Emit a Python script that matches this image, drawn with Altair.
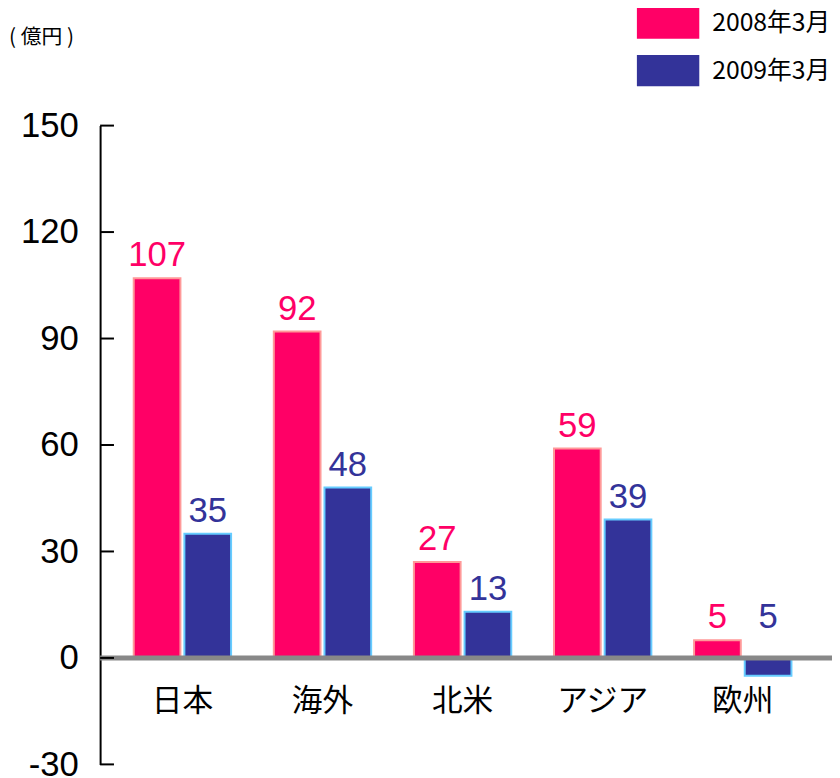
import altair as alt
import pandas as pd

regions = ["日本", "海外", "北米", "アジア", "欧州"]
series = ["2008年3月", "2009年3月"]
v2008 = [107, 92, 27, 59, 5]
v2009 = [35, 48, 13, 39, -5]
lab2008 = ["107", "92", "27", "59", "5"]
lab2009 = ["35", "48", "13", "39", "5"]
y_ticks = [-30, 0, 30, 60, 90, 120, 150]
unit_label = ["( 億円 )"]

fill_colors = ["#FF0066", "#333399"]
stroke_colors = ["#FF9999", "#66CCFF"]

rows = []
for i, r in enumerate(regions):
    rows.append({"region": r, "series": series[0], "value": v2008[i], "label": lab2008[i]})
    rows.append({"region": r, "series": series[1], "value": v2009[i], "label": lab2009[i]})
df = pd.DataFrame(rows)
df["labelpos"] = df["value"].abs()

ticks_df = pd.DataFrame({"t": y_ticks})

NUM_FONT = "Liberation Sans"
JP_FONT = "Noto Sans CJK JP"

x_scale = alt.Scale(domain=regions, paddingInner=0.305, paddingOuter=0.24)
y_scale = alt.Scale(domain=[-30, 150], nice=False, zero=False)
off_scale = alt.Scale(domain=series, paddingInner=0.078)
color_scale = alt.Scale(domain=series, range=fill_colors)

base = alt.Chart(df)

bars = base.mark_bar(strokeWidth=2).encode(
    x=alt.X("region:N", sort=regions, scale=x_scale,
            axis=alt.Axis(title=None, orient="bottom", offset=-78, domain=False, ticks=False,
                          labelAngle=0, labelFontSize=31, labelFont=JP_FONT, labelColor="#000000",
                          labelPadding=0, labelBaseline="top")),
    xOffset=alt.XOffset("series:N", scale=off_scale, sort=series),
    y=alt.Y("value:Q", scale=y_scale,
            axis=alt.Axis(title=None, values=y_ticks, tickSize=0, labelPadding=22, grid=False,
                          labelFontSize=35, labelFont=NUM_FONT, labelColor="#000000",
                          labelExpr="replace(datum.label, '\u2212', '-')",
                          domainColor="#000000", domainWidth=2)),
    color=alt.Color("series:N", scale=color_scale,
                    legend=alt.Legend(title=None, orient="none", legendX=542, legendY=-135,
                                      symbolType="M-1,-0.5H1V0.5H-1Z", symbolSize=3969,
                                      symbolStrokeWidth=0, symbolOpacity=1,
                                      labelFontSize=25, labelFont=JP_FONT,
                                      labelColor="#000000", labelOffset=13, rowPadding=-5)),
    stroke=alt.Stroke("series:N", scale=alt.Scale(domain=series, range=stroke_colors), legend=None),
)

texts = base.mark_text(baseline="alphabetic", dy=-12, fontSize=35, font=NUM_FONT).encode(
    x=alt.X("region:N", sort=regions, scale=x_scale),
    xOffset=alt.XOffset("series:N", scale=off_scale, sort=series),
    y=alt.Y("labelpos:Q", scale=y_scale),
    text="label:N",
    color=alt.Color("series:N", scale=color_scale, legend=None),
)

zero_line = alt.Chart(pd.DataFrame({"z": [0]})).mark_rule(color="#888888", strokeWidth=5).encode(
    y=alt.Y("z:Q", scale=y_scale),
    x=alt.value(0),
    x2=alt.value(739),
)

tick_marks = alt.Chart(ticks_df).mark_rule(color="#000000", strokeWidth=2).encode(
    y=alt.Y("t:Q", scale=y_scale),
    x=alt.value(0),
    x2=alt.value(14),
)

unit_text = alt.Chart(pd.DataFrame({"u": unit_label})).mark_text(
    align="left", baseline="middle", fontSize=21, font=JP_FONT, color="#000000"
).encode(
    text="u:N",
    x=alt.value(-92),
    y=alt.value(-88),
)

chart = alt.layer(bars, zero_line, texts, tick_marks, unit_text).properties(
    width=732,
    height=645,
    padding={"left": 93, "top": 115, "right": 7, "bottom": 10},
    autosize=alt.AutoSizeParams(type="none"),
).configure_view(stroke=None)

chart.save("out.html", embed_options={"renderer": "svg", "actions": False})
